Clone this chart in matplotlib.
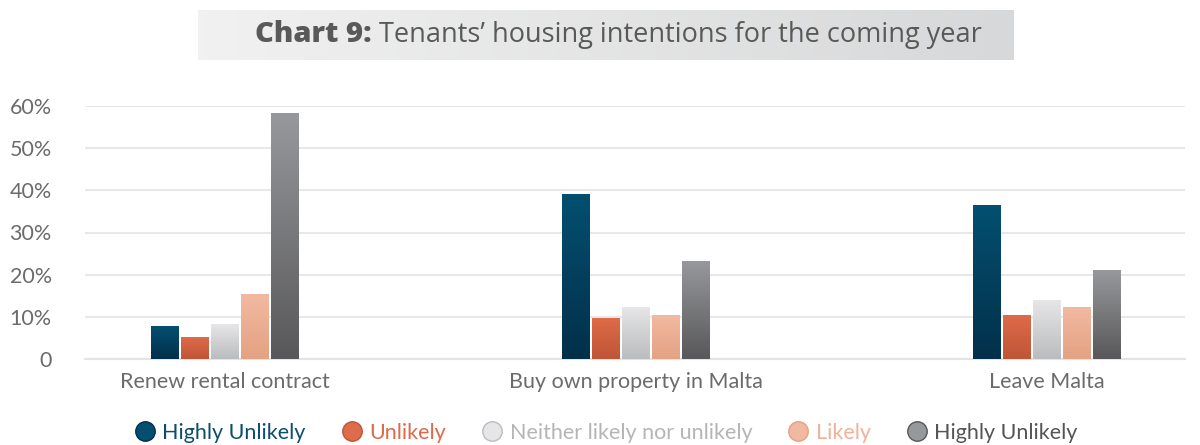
import numpy as np
import matplotlib.pyplot as plt
from matplotlib.colors import LinearSegmentedColormap
from matplotlib.lines import Line2D

categories = ["Renew rental contract", "Buy own property in Malta", "Leave Malta"]
series = ["Highly Unlikely", "Unlikely", "Neither likely nor unlikely", "Likely", "Highly Unlikely"]
highly_unlikely = [7.8, 38.9, 36.3]
unlikely = [5.2, 9.5, 10.2]
neither = [8.1, 12.3, 13.9]
likely = [15.4, 10.4, 12.1]
highly_unlikely_2 = [58.3, 23.1, 20.9]
values = [highly_unlikely, unlikely, neither, likely, highly_unlikely_2]

yticks = [0, 10, 20, 30, 40, 50, 60]
ytick_labels = ["0", "10%", "20%", "30%", "40%", "50%", "60%"]

# colour at top / bottom of each bar, plus legend text colour
grad = [("#044f70", "#02304a"), ("#de6b49", "#bf5536"), ("#e6e6e8", "#bbbcbe"),
        ("#f2b9a1", "#e3a283"), ("#97989b", "#58585a")]
text_cols = ["#0b4f6c", "#dd6a48", "#b5b5b5", "#f0b299", "#555555"]

plt.rcParams['font.family'] = ['Lato', 'DejaVu Sans']

fig = plt.figure(figsize=(12, 4.45), dpi=100)
ax = fig.add_axes([85 / 1200, 1 - 359 / 445, 1100 / 1200, 253 / 445])

x = np.arange(len(categories))
step = 0.073
width = 0.066
for i, vals in enumerate(values):
    offs = (i - 2) * step
    bars = ax.bar(x + offs, vals, width, color='none', zorder=3)
    cmap = LinearSegmentedColormap.from_list("g%d" % i, [grad[i][1], grad[i][0]])
    for b in bars:
        x0, y0 = b.get_x(), b.get_y()
        w, h = b.get_width(), b.get_height()
        g = np.linspace(0, 1, 100).reshape(-1, 1)
        ax.imshow(g, cmap=cmap, origin='lower', aspect='auto',
                  extent=(x0, x0 + w, y0, y0 + h), zorder=3)

ax.set_xlim(-0.34, 2.336)
ax.set_ylim(0, 60)
ax.set_yticks(yticks)
ax.set_yticklabels(ytick_labels)
ax.set_xticks(x)
ax.set_xticklabels(categories)
ax.grid(axis='y', color='#e8e8e8', linewidth=1.5, zorder=0)
ax.set_axisbelow(True)
for s in ['top', 'right', 'left']:
    ax.spines[s].set_visible(False)
ax.spines['bottom'].set_color('#e4e4e4')
ax.spines['bottom'].set_linewidth(1.5)
ax.tick_params(axis='y', length=0, pad=24, labelsize=15.5, labelcolor='#6b6b6b')
ax.tick_params(axis='x', length=0, pad=9, labelsize=15.5, labelcolor='#6b6b6b')

handles = [Line2D([], [], marker='o', linestyle='none', markersize=14,
                  markerfacecolor=grad[i][0], markeredgecolor=grad[i][1])
           for i in range(len(series))]
leg = fig.legend(handles, series, loc='center', bbox_to_anchor=(0.505, 1 - 433 / 445),
                 ncol=5, frameon=False, fontsize=15.5, handletextpad=0.3,
                 columnspacing=1.65, handlelength=1.0)
for t, c in zip(leg.get_texts(), text_cols):
    t.set_color(c)

# title box with soft gradient
tax = fig.add_axes([198 / 1200, 1 - 60 / 445, 815 / 1200, 50 / 445])
tax.imshow(np.linspace(0, 1, 200).reshape(1, -1), aspect='auto',
           cmap=LinearSegmentedColormap.from_list("t", ["#f1f1f1", "#d7d8d9"]),
           extent=(0, 1, 0, 1))
tax.set_xlim(0, 1)
tax.set_ylim(0, 1)
tax.axis('off')
fig.text(372 / 1200, 1 - 35 / 445, "Chart 9:", ha='right', va='center', fontsize=21,
         fontweight='heavy', color='#595959', family=['Open Sans', 'DejaVu Sans'])
fig.text(379 / 1200, 1 - 35 / 445, "Tenants\u2019 housing intentions for the coming year",
         ha='left', va='center', fontsize=19.5, color='#595959',
         family=['Open Sans', 'DejaVu Sans'])

fig.savefig("out.png", dpi=100)
